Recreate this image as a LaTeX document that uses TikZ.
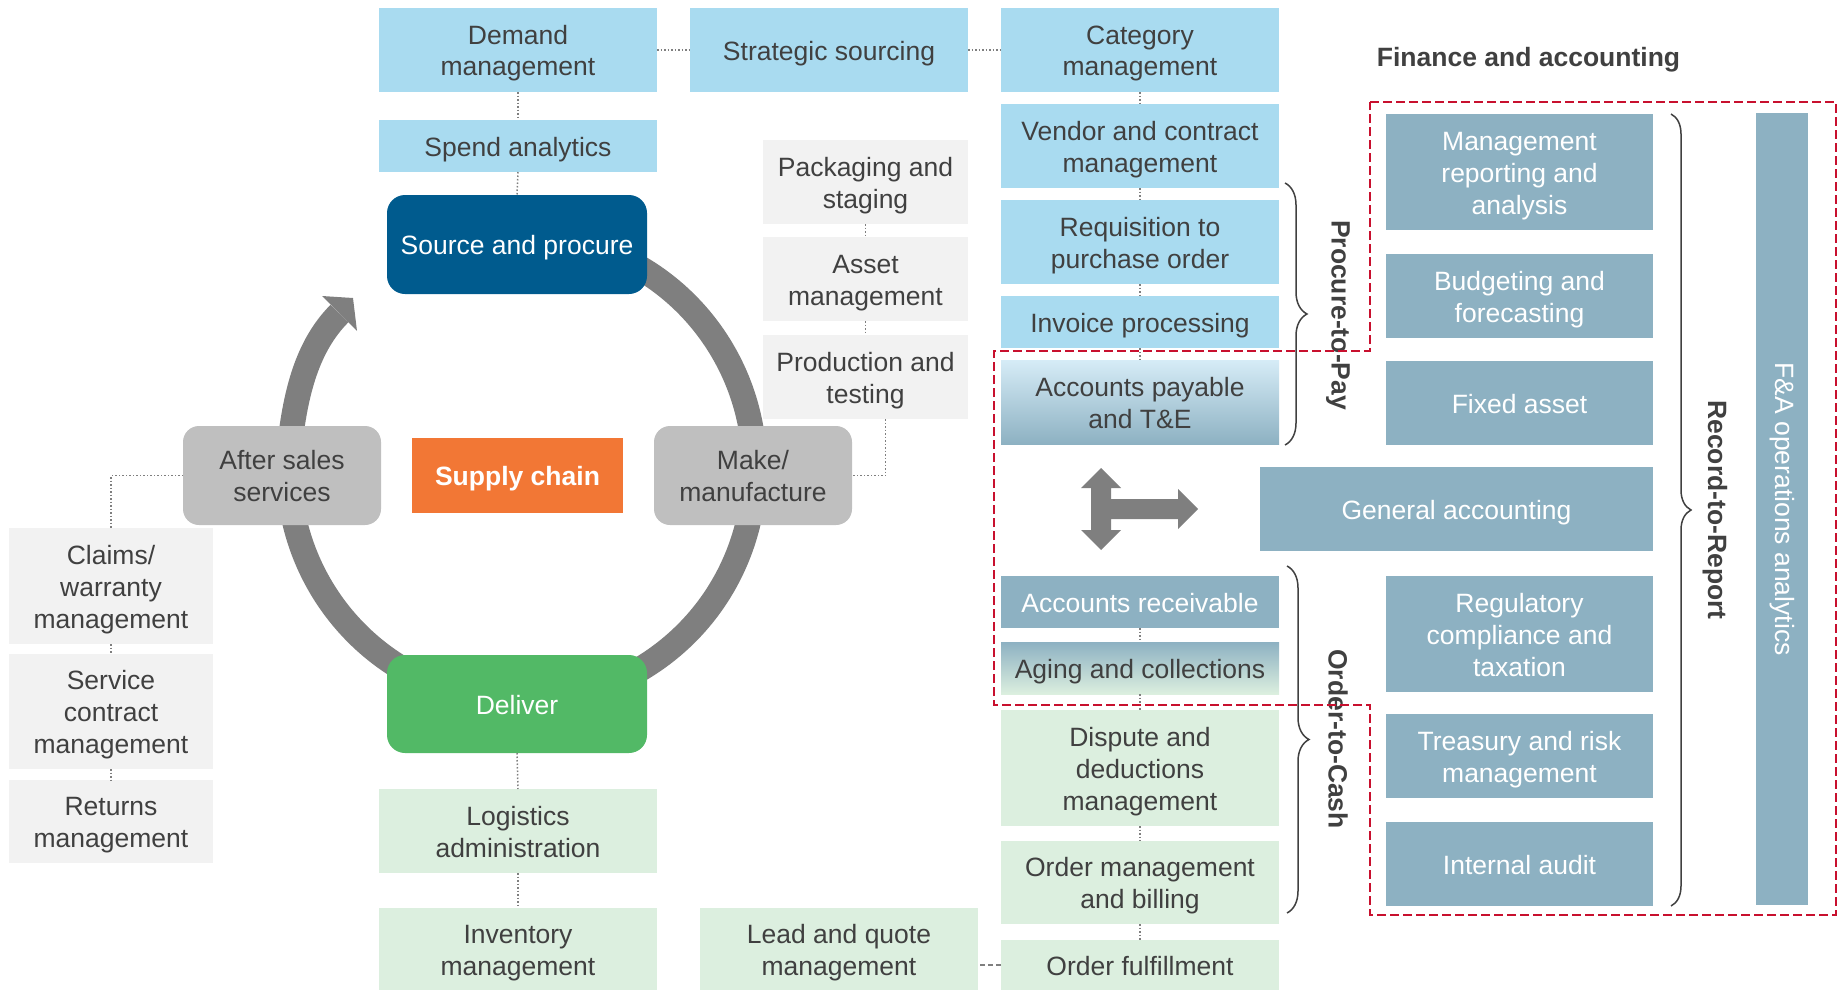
\documentclass[tikz,border=0pt]{standalone}
\usepackage{fontspec}
\setmainfont{Liberation Sans}
\usetikzlibrary{decorations.pathreplacing}
\definecolor{lblue}{HTML}{A9DBF0}
\definecolor{lgray}{HTML}{F2F2F2}
\definecolor{lgreen}{HTML}{DCEFDF}
\definecolor{steel}{HTML}{8DB1C2}
\definecolor{dblue}{HTML}{005B8E}
\definecolor{dgreen}{HTML}{52B966}
\definecolor{mgray}{HTML}{BFBFBF}
\definecolor{orng}{HTML}{F27735}
\definecolor{ringc}{HTML}{7F7F7F}
\definecolor{txt}{HTML}{404040}
\definecolor{redd}{HTML}{C8102E}
\definecolor{aptop}{HTML}{D6ECF7}
\newcommand\fsz{\fontsize{26.5pt}{32pt}\selectfont}
\newcommand\ts{\rule{0pt}{26pt}}
\newcommand\te{\rule[-6pt]{0pt}{6pt}}
\begin{document}
\begin{tikzpicture}[x=1pt,y=-1pt,
  box/.style={inner sep=0pt, outer sep=0pt, align=center, font=\fsz, text=txt},
  lb/.style={box, fill=lblue},
  lg/.style={box, fill=lgray},
  gn/.style={box, fill=lgreen},
  st/.style={box, fill=steel, text=white},
  cyc/.style={box, rounded corners=16pt, fill=mgray},
  conn/.style={draw=ringc, line width=1.5pt, dotted},
  dconn/.style={draw=ringc, line width=1.5pt, dash pattern=on 5pt off 3pt},
  brc/.style={draw=txt, line width=1.5pt, decorate, decoration={brace, amplitude=#1}},
  lbl/.style={font=\fsz\bfseries, text=txt, inner sep=0pt},
  ringline/.style={draw=ringc, line width=25pt}
]
\useasboundingbox (0,0) rectangle (1839,990);

% ring
\draw[ringline] (601.2,249.7) arc[start angle=-70, end angle=187.1, radius=233]
   .. controls (296.0,393.9) and (306.6,346.4) .. (339.5,313.5);
\fill[ringc] (322,296) -- (353,298) -- (357,331) -- cycle;

% supply chain
\node[lb, minimum width=278, minimum height=84] (demand) at (518,50) {\ts Demand\\management\te};
\node[lb, minimum width=278, minimum height=84] (strat) at (829,50) {\ts Strategic sourcing\te};
\node[lb, minimum width=278, minimum height=84] (cat) at (1140,50) {\ts Category\\management\te};
\node[lb, minimum width=278, minimum height=52] (spend) at (518,146) {\ts Spend analytics\te};
\node[box, rounded corners=18pt, fill=dblue, text=white, minimum width=260, minimum height=99] (source) at (517,244.5) {\ts Source and procure\te};
\node[lg, minimum width=205, minimum height=84] (pack) at (865.5,182) {\ts Packaging and\\staging\te};
\node[lg, minimum width=205, minimum height=84] (asset) at (865.5,279) {\ts Asset\\management\te};
\node[lg, minimum width=205, minimum height=84] (prod) at (865.5,377) {\ts Production and\\testing\te};
\node[cyc, minimum width=198, minimum height=99] (after) at (282,475.5) {\ts After sales\\services\te};
\node[box, fill=orng, text=white, font=\fsz\bfseries, minimum width=211, minimum height=75] (supply) at (517.5,475.5) {\ts Supply chain\te};
\node[cyc, minimum width=198, minimum height=99] (make) at (753,475.5) {\ts Make/\\manufacture\te};
\node[lg, minimum width=204, minimum height=116] (claims) at (111,586) {\ts Claims/\\warranty\\management\te};
\node[lg, minimum width=204, minimum height=115] (service) at (111,711.5) {\ts Service\\contract\\management\te};
\node[lg, minimum width=204, minimum height=83] (returns) at (111,821.5) {\ts Returns\\management\te};
\node[box, rounded corners=18pt, fill=dgreen, text=white, minimum width=260, minimum height=98] (deliver) at (517,704) {\ts Deliver\te};
\node[gn, minimum width=278, minimum height=84] (logistics) at (518,831) {\ts Logistics\\administration\te};
\node[gn, minimum width=278, minimum height=82] (inventory) at (518,949) {\ts Inventory\\management\te};
\node[gn, minimum width=278, minimum height=82] (lead) at (839,949) {\ts Lead and quote\\management\te};

% F&A column
\node[lb, minimum width=278, minimum height=84] (vendor) at (1140,146) {\ts Vendor and contract\\management\te};
\node[lb, minimum width=278, minimum height=84] (req) at (1140,242) {\ts Requisition to\\purchase order\te};
\node[lb, minimum width=278, minimum height=52] (invoice) at (1140,322) {\ts Invoice processing\te};
\node[box, top color=aptop, bottom color=steel, minimum width=278, minimum height=84] (ap) at (1140,402) {\ts Accounts payable\\and T\&E\te};
\node[st, minimum width=278, minimum height=52] (ar) at (1140,602) {\ts Accounts receivable\te};
\node[box, top color=steel, bottom color=lgreen, minimum width=278, minimum height=52] (aging) at (1140,668) {\ts Aging and collections\te};
\node[gn, minimum width=278, minimum height=116] (dispute) at (1140,768) {\ts Dispute and\\deductions\\management\te};
\node[gn, minimum width=278, minimum height=83] (ordermgmt) at (1140,882.5) {\ts Order management\\and billing\te};
\node[gn, minimum width=278, minimum height=50] (fulfill) at (1140,965) {\ts Order fulfillment\te};

% R2R
\node[st, minimum width=267, minimum height=116] (mgmt) at (1519.5,172) {\ts Management\\reporting and\\analysis\te};
\node[st, minimum width=267, minimum height=84] (budget) at (1519.5,296) {\ts Budgeting and\\forecasting\te};
\node[st, minimum width=267, minimum height=84] (fixed) at (1519.5,403) {\ts Fixed asset\te};
\node[st, minimum width=393, minimum height=84] (general) at (1456.5,509) {\ts General accounting\te};
\node[st, minimum width=267, minimum height=116] (reg) at (1519.5,634) {\ts Regulatory\\compliance and\\taxation\te};
\node[st, minimum width=267, minimum height=84] (treasury) at (1519.5,756) {\ts Treasury and risk\\management\te};
\node[st, minimum width=267, minimum height=84] (audit) at (1519.5,864) {\ts Internal audit\te};
\node[st, rotate=-90, minimum width=792, minimum height=52] (fa) at (1782,509) {F\&A operations analytics};

% title and labels
\node[lbl] (title) at (1528.5,60) {Finance and accounting};
\node[lbl, rotate=-90] (p2p) at (1338,315) {Procure-to-Pay};
\node[lbl, rotate=-90] (o2c) at (1338,739) {Order-to-Cash};
\node[lbl, rotate=-90] (r2r) at (1715,510) {Record-to-Report};

% braces
\draw[brc=22pt] (1285,183) -- (1285,445);
\draw[brc=22pt] (1287,566) -- (1287,913);
\draw[brc=20pt] (1671,114) -- (1671,906);

% connectors
\draw[conn] (demand.east) -- (strat.west);
\draw[conn] (strat.east) -- (cat.west);
\draw[conn] (demand.south) -- (spend.north);
\draw[conn] (spend.south) -- (source.north);
\draw[conn] (cat.south) -- (vendor.north);
\draw[conn] (vendor.south) -- (req.north);
\draw[conn] (req.south) -- (invoice.north);
\draw[conn] (invoice.south) -- (ap.north);
\draw[conn] (pack.south) -- (asset.north);
\draw[conn] (asset.south) -- (prod.north);
\draw[conn] ([xshift=20pt]prod.south) |- (make.east);
\draw[conn] (after.west) -| (claims.north);
\draw[conn] (claims.south) -- (service.north);
\draw[conn] (service.south) -- (returns.north);
\draw[conn] (deliver.south) -- (logistics.north);
\draw[conn] (logistics.south) -- (inventory.north);
\draw[conn] (ar.south) -- (aging.north);
\draw[conn] (aging.south) -- (dispute.north);
\draw[conn] (dispute.south) -- (ordermgmt.north);
\draw[conn] (ordermgmt.south) -- (fulfill.north);
\draw[dconn] (fulfill.west) -- (fulfill.west -| lead.east);

% double arrow
\fill[ringc] (1101,468) -- (1121,488) -- (1111,488) -- (1111,499) -- (1178,499) -- (1178,489)
  -- (1198,509) -- (1178,529) -- (1178,519) -- (1111,519) -- (1111,530) -- (1121,530)
  -- (1101,550) -- (1081,530) -- (1091,530) -- (1091,488) -- (1081,488) -- cycle;

% red dashed region
\draw[redd, line width=2pt, dash pattern=on 9pt off 4pt] (1370,102) -- (1836,102) -- (1836,915)
  -- (1370,915) -- (1370,705) -- (994,705) -- (994,351) -- (1370,351) -- cycle;
\end{tikzpicture}
\end{document}
